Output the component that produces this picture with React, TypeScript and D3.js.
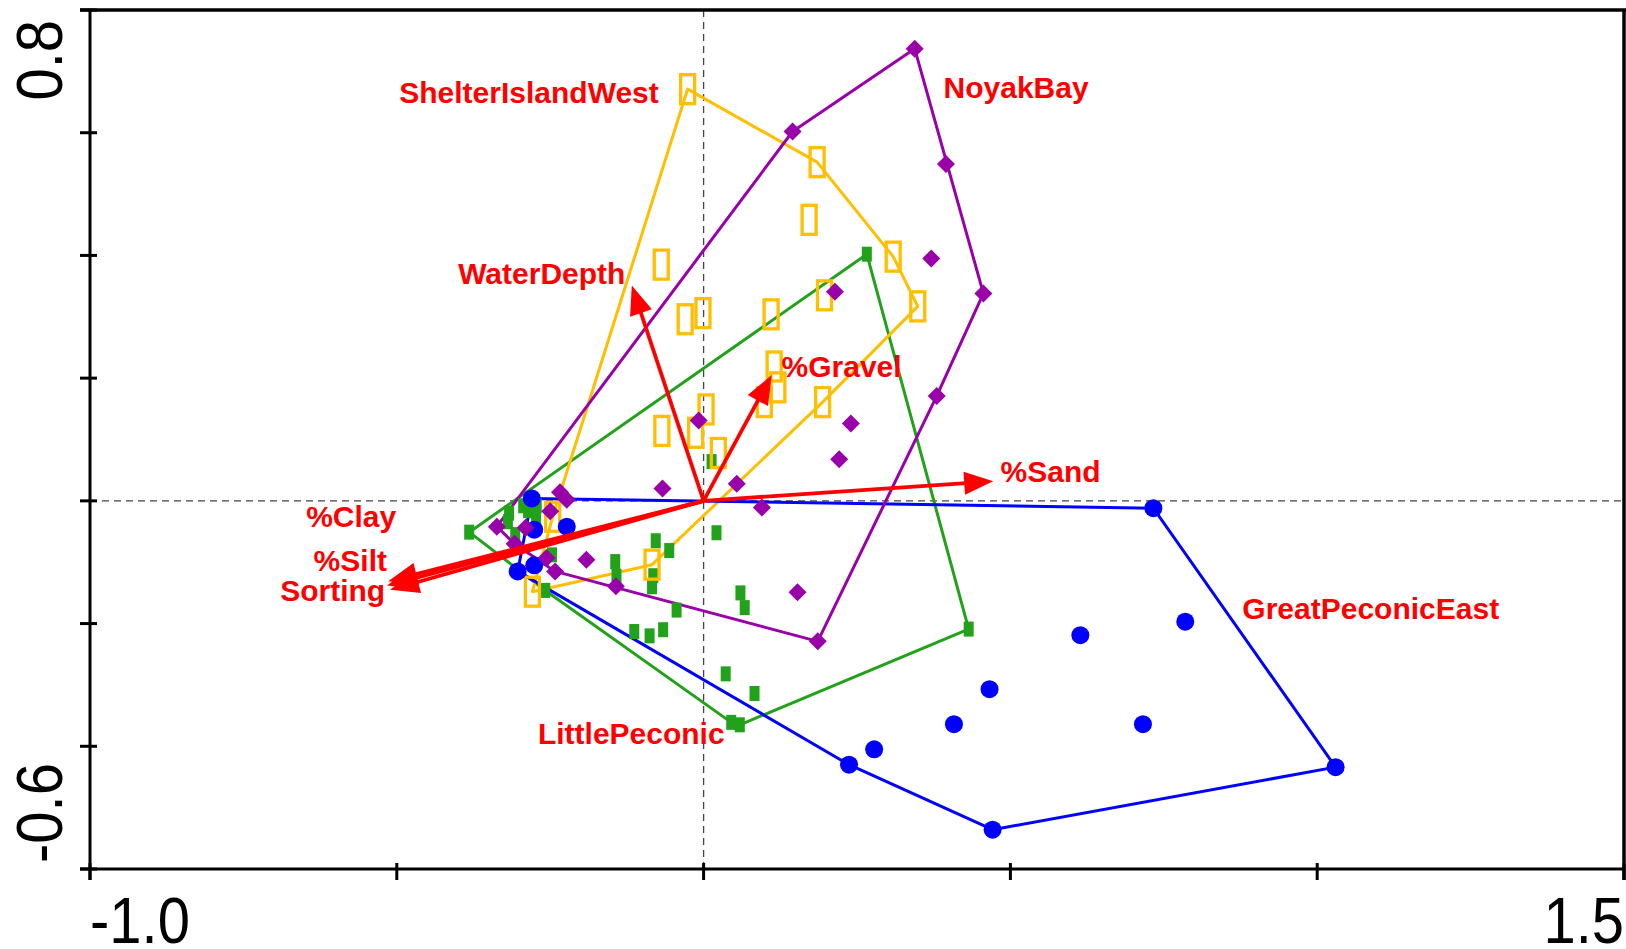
import React from "react";
import * as d3 from "d3";

type Pt = [number, number];

// Sample scores on ordination axes 1 and 2, by region
const greatPeconicEast: Pt[] = [
  [-0.28, 0.004], [-0.276, -0.047], [-0.223, -0.042], [-0.303, -0.115], [-0.276, -0.105],
  [0.733, -0.012], [1.03, -0.434], [0.471, -0.536], [0.237, -0.43], [0.278, -0.405],
  [0.408, -0.364], [0.466, -0.307], [0.614, -0.219], [0.785, -0.197], [0.716, -0.364],
];

const noyakBay: Pt[] = [
  [0.344, 0.737], [0.145, 0.602], [0.395, 0.549], [0.371, 0.395], [0.456, 0.338],
  [0.214, 0.341], [0.38, 0.171], [0.24, 0.126], [0.221, 0.068], [-0.008, 0.131],
  [-0.067, 0.02], [0.054, 0.028], [0.095, -0.011], [0.153, -0.149], [0.186, -0.229],
  [-0.143, -0.139], [-0.191, -0.096], [-0.337, -0.042], [-0.234, 0.014], [-0.223, 0.002],
  [-0.25, -0.017], [-0.29, -0.044], [-0.308, -0.07], [-0.256, -0.093], [-0.242, -0.115],
];

const shelterIslandWest: Pt[] = [
  [-0.026, 0.671], [0.185, 0.552], [0.172, 0.458], [0.309, 0.398], [0.349, 0.317],
  [-0.069, 0.385], [-0.03, 0.296], [-0.001, 0.306], [0.11, 0.304], [0.197, 0.335],
  [0.115, 0.219], [0.121, 0.185], [0.099, 0.161], [0.194, 0.161], [0.004, 0.149],
  [-0.068, 0.114], [-0.013, 0.111], [0.024, 0.078], [-0.084, -0.104], [-0.279, -0.148],
  [-0.246, -0.026],
];

const littlePeconic: Pt[] = [
  [0.266, 0.402], [0.432, -0.209], [0.045, -0.361], [0.059, -0.365], [-0.382, -0.051],
  [0.013, 0.064], [0.021, -0.052], [-0.078, -0.065], [-0.056, -0.081], [-0.144, -0.099],
  [-0.142, -0.123], [-0.082, -0.122], [-0.084, -0.14], [-0.044, -0.178], [0.06, -0.15],
  [0.067, -0.174], [-0.113, -0.213], [-0.088, -0.22], [-0.066, -0.21], [0.036, -0.282],
  [0.083, -0.314], [-0.258, -0.146], [-0.247, -0.088], [-0.317, -0.02], [-0.319, -0.034],
  [-0.307, -0.055], [-0.294, -0.008], [-0.286, -0.016], [-0.273, -0.024], [-0.272, -0.008],
];

// Environmental variable vectors (biplot scores)
const envNames = ["WaterDepth", "%Gravel", "%Sand", "%Clay", "%Silt", "Sorting"];
const envX = [-0.117, 0.111, 0.472, -0.514, -0.516, -0.511];
const envY = [0.351, 0.205, 0.032, -0.131, -0.138, -0.145];

// Axis ticks
const xTicks = [-1.0, -0.5, 0, 0.5, 1.0, 1.5];
const yTicks = [-0.6, -0.4, -0.2, 0, 0.2, 0.4, 0.6, 0.8];
const xTickLabels = ["-1.0", "1.5"];
const yTickLabels = ["-0.6", "0.8"];

// Text anchors for the variable and region labels, in axis units
const envLabelAt: { x: number; y: number; anchor: string }[] = [
  { x: -0.4, y: 0.354, anchor: "start" },
  { x: 0.127, y: 0.202, anchor: "start" },
  { x: 0.484, y: 0.031, anchor: "start" },
  { x: -0.501, y: -0.042, anchor: "end" },
  { x: -0.516, y: -0.115, anchor: "end" },
  { x: -0.519, y: -0.164, anchor: "end" },
];
const regionNames = ["ShelterIslandWest", "NoyakBay", "GreatPeconicEast", "LittlePeconic"];
const regionLabelAt: Pt[] = [
  [-0.496, 0.649],
  [0.391, 0.656],
  [0.878, -0.193],
  [-0.27, -0.396],
];

const BLUE = "#0000ff";
const PURPLE = "#9900aa";
const ORANGE = "#ffbf00";
const GREEN = "#22a11a";
const RED = "#ff0000";
const FONT = "Arial, 'Liberation Sans', sans-serif";

export default function App() {
  const left = 90, right = 1624, top = 10, bottom = 869;
  const x = d3.scaleLinear().domain([-1.0, 1.5]).range([left, right]);
  const y = d3.scaleLinear().domain([-0.6, 0.8]).range([bottom, top]);

  const hullPath = (pts: Pt[]) => {
    const px = pts.map((p) => [x(p[0]), y(p[1])] as [number, number]);
    const hull = d3.polygonHull(px) || px;
    return d3.line()(hull as [number, number][]) + "Z";
  };

  const diamond = (cx: number, cy: number, r: number) =>
    `M${cx},${cy - r}L${cx + r},${cy}L${cx},${cy + r}L${cx - r},${cy}Z`;

  const arrow = (i: number) => {
    const x0 = x(0), y0 = y(0);
    const x1 = x(envX[i]), y1 = y(envY[i]);
    const dx = x1 - x0, dy = y1 - y0;
    const len = Math.hypot(dx, dy);
    const ux = dx / len, uy = dy / len;
    const hl = 29, hw = 11.5;
    const bx = x1 - ux * hl, by = y1 - uy * hl;
    const head = `M${x1},${y1}L${bx - uy * hw},${by + ux * hw}L${bx + uy * hw},${by - ux * hw}Z`;
    return (
      <g key={"arrow" + i}>
        <line x1={x0} y1={y0} x2={bx + ux * 2} y2={by + uy * 2} stroke={RED} strokeWidth={3.8} />
        <path d={head} fill={RED} />
      </g>
    );
  };

  return (
    <svg
      width={1626}
      height={949}
      style={{ position: "absolute", left: 0, top: 0, background: "#fff" }}
    >
      <rect x={0} y={0} width={1626} height={949} fill="#fff" />

      {/* zero lines */}
      <line x1={x(0)} x2={x(0)} y1={top} y2={bottom} stroke="#444" strokeWidth={1.3} strokeDasharray="7,5" />
      <line x1={left} x2={right} y1={y(0)} y2={y(0)} stroke="#444" strokeWidth={1.3} strokeDasharray="7,5" />

      {/* region envelopes */}
      <path d={hullPath(littlePeconic)} fill="none" stroke={GREEN} strokeWidth={3} strokeLinejoin="round" />
      <path d={hullPath(shelterIslandWest)} fill="none" stroke={ORANGE} strokeWidth={3} strokeLinejoin="round" />
      <path d={hullPath(greatPeconicEast)} fill="none" stroke={BLUE} strokeWidth={3} strokeLinejoin="round" />
      <path d={hullPath(noyakBay)} fill="none" stroke={PURPLE} strokeWidth={3} strokeLinejoin="round" />

      {/* samples */}
      {littlePeconic.map((p, i) => (
        <rect key={"lp" + i} x={x(p[0]) - 5} y={y(p[1]) - 7.5} width={10} height={15} fill={GREEN} />
      ))}
      {shelterIslandWest.map((p, i) => (
        <rect
          key={"sw" + i}
          x={x(p[0]) - 7}
          y={y(p[1]) - 14.5}
          width={14}
          height={29}
          fill="none"
          stroke={ORANGE}
          strokeWidth={3.3}
        />
      ))}
      {greatPeconicEast.map((p, i) => (
        <circle key={"ge" + i} cx={x(p[0])} cy={y(p[1])} r={9} fill={BLUE} />
      ))}
      {noyakBay.map((p, i) => (
        <path key={"nb" + i} d={diamond(x(p[0]), y(p[1]), 9)} fill={PURPLE} />
      ))}

      {/* environmental vectors */}
      {envNames.map((_, i) => arrow(i))}

      {/* labels */}
      {envNames.map((n, i) => (
        <text
          key={"el" + i}
          x={x(envLabelAt[i].x)}
          y={y(envLabelAt[i].y)}
          textAnchor={envLabelAt[i].anchor}
          fontFamily={FONT}
          fontWeight="bold"
          fontSize={30}
          fill={RED}
        >
          {n}
        </text>
      ))}
      {regionNames.map((n, i) => (
        <text
          key={"rl" + i}
          x={x(regionLabelAt[i][0])}
          y={y(regionLabelAt[i][1])}
          fontFamily={FONT}
          fontWeight="bold"
          fontSize={30}
          fill={RED}
        >
          {n}
        </text>
      ))}

      {/* frame */}
      <line x1={left - 10} x2={right + 2} y1={top} y2={top} stroke="#000" strokeWidth={3.5} />
      <line x1={right} x2={right} y1={top} y2={bottom + 11} stroke="#000" strokeWidth={3.5} />
      <line x1={left} x2={left} y1={top} y2={bottom + 11} stroke="#000" strokeWidth={3} />
      <line x1={left - 10} x2={right} y1={bottom} y2={bottom} stroke="#000" strokeWidth={3} />
      {yTicks.map((t) => (
        <line key={"yt" + t} x1={left - 10} x2={left + 7} y1={y(t)} y2={y(t)} stroke="#000" strokeWidth={3} />
      ))}
      {xTicks.map((t) => (
        <line key={"xt" + t} x1={x(t)} x2={x(t)} y1={bottom - 6} y2={bottom + 11} stroke="#000" strokeWidth={3} />
      ))}

      {/* tick labels */}
      <text
        transform={`translate(${x(xTicks[0])},943) scale(1,1.12)`}
        fontFamily={FONT}
        fontSize={58}
        textAnchor="start"
      >
        {xTickLabels[0]}
      </text>
      <text
        transform={`translate(${x(xTicks[xTicks.length - 1])},943) scale(1,1.12)`}
        fontFamily={FONT}
        fontSize={58}
        textAnchor="end"
      >
        {xTickLabels[1]}
      </text>
      <text
        transform={`translate(62,${y(yTicks[0]) - 6}) rotate(-90) scale(1,1.12)`}
        fontFamily={FONT}
        fontSize={58}
        textAnchor="start"
      >
        {yTickLabels[0]}
      </text>
      <text
        transform={`translate(62,${y(yTicks[yTicks.length - 1]) + 10}) rotate(-90) scale(1,1.12)`}
        fontFamily={FONT}
        fontSize={58}
        textAnchor="end"
      >
        {yTickLabels[1]}
      </text>
    </svg>
  );
}
